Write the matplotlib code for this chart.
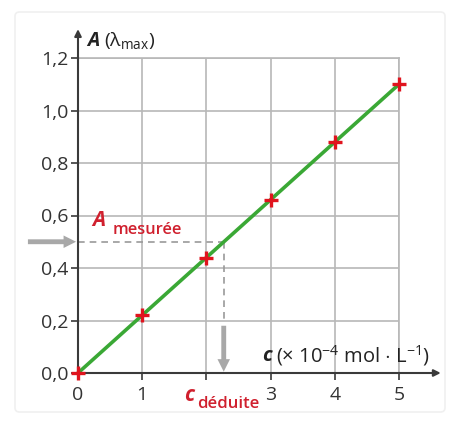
import matplotlib
matplotlib.use("Agg")
import matplotlib.pyplot as plt
from matplotlib.patches import FancyBboxPatch

plt.rcParams['font.family'] = ['Open Sans', 'DejaVu Sans']
plt.rcParams['mathtext.fontset'] = 'custom'
plt.rcParams['mathtext.rm'] = 'Open Sans'
plt.rcParams['mathtext.it'] = 'Open Sans:italic'
plt.rcParams['mathtext.bf'] = 'Open Sans:bold'

# data
conc = [0, 1, 2, 3, 4, 5]
absorb = [0.0, 0.22, 0.44, 0.66, 0.88, 1.10]
x_ticks = [0, 1, 2, 3, 4, 5]
x_tick_labels = ["0", "1", "", "3", "4", "5"]
y_ticks = [0.0, 0.2, 0.4, 0.6, 0.8, 1.0, 1.2]
y_tick_labels = ["0,0", "0,2", "0,4", "0,6", "0,8", "1,0", "1,2"]
a_mesuree = 0.5
c_deduite = 2.27

W, H = 455, 424
fig = plt.figure(figsize=(W / 100, H / 100), dpi=100)
fig.patch.set_facecolor('white')

# faint outer frame
frame = FancyBboxPatch((15 / W, 12 / H), 430 / W, 400 / H,
                       boxstyle="round,pad=0,rounding_size=0.01",
                       transform=fig.transFigure, fill=False,
                       edgecolor='#f0f0f0', linewidth=1.2)
fig.patches.append(frame)

ax = fig.add_axes([78 / W, (H - 373) / H, 321 / W, 315 / H])
ax.set_xlim(0, 5)
ax.set_ylim(0, 1.2)
ax.set_facecolor('none')

grid_c = '#b8b8b8'
for s in ['top', 'right']:
    ax.spines[s].set_color(grid_c)
    ax.spines[s].set_linewidth(1.2)
for s in ['left', 'bottom']:
    ax.spines[s].set_color('#3a3a3a')
    ax.spines[s].set_linewidth(1.5)
    ax.spines[s].set_zorder(5)

ax.set_xticks(x_ticks)
ax.set_xticklabels(x_tick_labels)
ax.set_yticks(y_ticks)
ax.set_yticklabels(y_tick_labels)
ax.tick_params(axis='both', direction='out', length=5, width=1.2,
               color='#3a3a3a', labelsize=14, labelcolor='#333333')
ax.tick_params(axis='y', pad=2)
ax.tick_params(axis='x', pad=4)
ax.grid(True, color=grid_c, linewidth=1.2)
ax.set_axisbelow(True)

# axis arrows
ax.annotate('', xy=(5.65, 0), xytext=(4.99, 0), xycoords='data',
            arrowprops=dict(arrowstyle='-|>', color='#3a3a3a', lw=1.5,
                            mutation_scale=10, shrinkA=0, shrinkB=0),
            annotation_clip=False)
ax.annotate('', xy=(0, 1.31), xytext=(0, 1.195), xycoords='data',
            arrowprops=dict(arrowstyle='-|>', color='#3a3a3a', lw=1.5,
                            mutation_scale=10, shrinkA=0, shrinkB=0),
            annotation_clip=False)

# dashed construction lines
ax.plot([0, c_deduite], [a_mesuree, a_mesuree], linestyle=(0, (4, 3)),
        color='#9a9a9a', lw=1.2, zorder=3, clip_on=False)
ax.plot([c_deduite, c_deduite], [a_mesuree, 0.19], linestyle=(0, (4, 3)),
        color='#9a9a9a', lw=1.2, zorder=3, clip_on=False)

# gray arrows
ax.annotate('', xy=(-0.03, a_mesuree), xytext=(-0.78, a_mesuree),
            arrowprops=dict(arrowstyle='simple,head_length=0.9,head_width=0.9,tail_width=0.35',
                            color='#a8a8a8', shrinkA=0, shrinkB=0, lw=0),
            annotation_clip=False)
ax.annotate('', xy=(c_deduite, 0.005), xytext=(c_deduite, 0.18),
            arrowprops=dict(arrowstyle='simple,head_length=0.9,head_width=0.9,tail_width=0.35',
                            color='#a8a8a8', shrinkA=0, shrinkB=0, lw=0),
            annotation_clip=False)

# line and points
ax.plot(conc, absorb, color='#3aa835', lw=2.6, zorder=4, clip_on=False)
ax.scatter(conc, absorb, marker='+', s=110, linewidths=2.4,
           color='#e0141e', zorder=7, clip_on=False)

# axis labels
ax.text(0.14, 1.265, 'A', fontsize=14, fontweight='bold', fontstyle='italic',
        color='#222222', ha='left', va='center')
ax.text(0.40, 1.265, '(λ$_{\\mathrm{max}}$)', fontsize=14, color='#222222',
        ha='left', va='center')

ax.text(2.86, 0.065, 'c', fontsize=14.5, fontweight='bold', fontstyle='italic',
        color='#222222', ha='left', va='center')
ax.text(3.08, 0.065, r'($\times$ 10$^{-4}$ mol $\cdot$ L$^{-1}$)',
        fontsize=14.5, color='#222222', ha='left', va='center')

red = '#d0202e'
ax.text(0.33, 0.58, 'A', fontsize=15, fontstyle='italic', fontweight='bold',
        color=red, ha='center', va='center')
ax.text(0.545, 0.545, 'mesurée', fontsize=11.8, fontweight='semibold',
        color=red, ha='left', va='center')
ax.text(1.73, -0.084, 'c', fontsize=15, fontstyle='italic', fontweight='bold',
        color=red, ha='center', va='center', clip_on=False)
ax.text(1.85, -0.118, 'déduite', fontsize=12.2, fontweight='semibold',
        color=red, ha='left', va='center', clip_on=False)

fig.savefig('out.png', dpi=100, facecolor='white')
